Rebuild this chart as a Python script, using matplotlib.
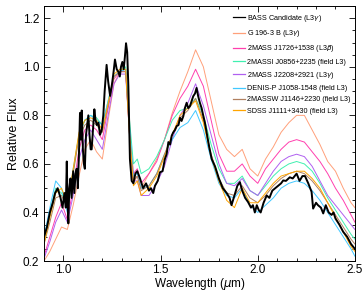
import matplotlib
matplotlib.use('Agg')
import matplotlib.pyplot as plt
from matplotlib.ticker import MultipleLocator

plt.rcParams['font.family'] = ['Liberation Sans', 'DejaVu Sans']

# BASS candidate (noisy, thick black)
bass_wl = [0.900, 0.915, 0.930, 0.945, 0.957, 0.970, 0.985, 0.995, 1.005, 1.012,
           1.017, 1.021, 1.025, 1.030, 1.036, 1.042, 1.050, 1.056, 1.062, 1.068,
           1.074, 1.080, 1.085, 1.090, 1.094, 1.100, 1.105, 1.110, 1.116, 1.122,
           1.128, 1.134, 1.140, 1.145, 1.152, 1.159, 1.165, 1.172, 1.180, 1.188,
           1.197, 1.205, 1.212, 1.222, 1.230, 1.240, 1.250, 1.258, 1.265, 1.274,
           1.282, 1.290, 1.296, 1.303, 1.310, 1.316, 1.322, 1.328, 1.334, 1.338,
           1.342, 1.351, 1.360, 1.370, 1.380, 1.394, 1.410, 1.425, 1.440, 1.450,
           1.462, 1.471, 1.485, 1.497, 1.510, 1.522, 1.531, 1.540, 1.549, 1.557,
           1.565, 1.574, 1.583, 1.592, 1.600, 1.608, 1.617, 1.625, 1.634, 1.642,
           1.651, 1.660, 1.668, 1.677, 1.685, 1.693, 1.702, 1.711, 1.720, 1.728,
           1.737, 1.750, 1.763, 1.780, 1.800, 1.820, 1.840, 1.855, 1.865, 1.880,
           1.895, 1.908, 1.920, 1.935, 1.950, 1.965, 1.975, 1.985, 1.995, 2.005,
           2.015, 2.030, 2.046, 2.060, 2.075, 2.090, 2.105, 2.120, 2.131, 2.145,
           2.165, 2.180, 2.200, 2.215, 2.230, 2.243, 2.260, 2.277, 2.285, 2.300,
           2.310, 2.325, 2.337, 2.350, 2.365, 2.380, 2.390, 2.400, 2.420, 2.440,
           2.460, 2.480, 2.500]
bass_fx = [0.30, 0.34, 0.40, 0.44, 0.48, 0.50, 0.46, 0.42, 0.48, 0.42,
           0.61, 0.45, 0.355, 0.50, 0.54, 0.46, 0.57, 0.48, 0.56, 0.58,
           0.50, 0.65, 0.81, 0.70, 0.82, 0.66, 0.60, 0.58, 0.72, 0.76,
           0.80, 0.72, 0.66, 0.66, 0.74, 0.825, 0.78, 0.76, 0.77, 0.72,
           0.74, 0.80, 0.90, 1.008, 0.94, 0.88, 0.93, 0.98, 1.03, 0.99,
           0.98, 0.96, 1.00, 1.02, 0.99, 1.04, 1.097, 1.06, 0.92, 0.78,
           0.62, 0.53, 0.52, 0.56, 0.57, 0.54, 0.50, 0.52, 0.49, 0.50,
           0.48, 0.51, 0.53, 0.566, 0.57, 0.62, 0.64, 0.69, 0.68, 0.716,
           0.73, 0.74, 0.756, 0.76, 0.79, 0.777, 0.797, 0.83, 0.852, 0.83,
           0.838, 0.86, 0.879, 0.89, 0.913, 0.88, 0.852, 0.83, 0.797, 0.77,
           0.73, 0.67, 0.62, 0.59, 0.54, 0.50, 0.48, 0.46, 0.43, 0.47,
           0.51, 0.525, 0.49, 0.46, 0.443, 0.42, 0.43, 0.40, 0.43, 0.41,
           0.40, 0.44, 0.47, 0.46, 0.49, 0.50, 0.51, 0.52, 0.532, 0.53,
           0.545, 0.54, 0.56, 0.53, 0.55, 0.55, 0.52, 0.485, 0.416, 0.44,
           0.43, 0.42, 0.396, 0.43, 0.40, 0.39, 0.40, 0.375, 0.35, 0.32,
           0.30, 0.27, 0.25]

# comparison objects share one wavelength grid
wl = [0.90, 0.93, 0.96, 0.99, 1.02, 1.05, 1.08, 1.11, 1.14, 1.17,
      1.20, 1.23, 1.26, 1.29, 1.32, 1.34, 1.36, 1.38, 1.40, 1.44,
      1.48, 1.52, 1.56, 1.60, 1.64, 1.68, 1.72, 1.76, 1.80, 1.84,
      1.88, 1.92, 1.96, 2.00, 2.04, 2.08, 2.12, 2.16, 2.20, 2.24,
      2.28, 2.32, 2.36, 2.40, 2.44, 2.48, 2.50]

g196 = [0.20, 0.24, 0.29, 0.34, 0.33, 0.43, 0.55, 0.66, 0.70, 0.65,
        0.62, 0.78, 0.93, 0.98, 0.99, 0.72, 0.52, 0.55, 0.50, 0.56,
        0.62, 0.70, 0.81, 0.90, 0.98, 1.07, 1.00, 0.86, 0.72, 0.66,
        0.63, 0.66, 0.58, 0.55, 0.62, 0.67, 0.73, 0.77, 0.80, 0.80,
        0.74, 0.68, 0.61, 0.57, 0.50, 0.44, 0.42]
j1726 = [0.22, 0.30, 0.38, 0.44, 0.37, 0.50, 0.66, 0.74, 0.76, 0.74,
         0.70, 0.83, 0.95, 0.98, 0.98, 0.74, 0.56, 0.58, 0.52, 0.56,
         0.61, 0.70, 0.80, 0.87, 0.92, 0.99, 0.92, 0.78, 0.64, 0.57,
         0.57, 0.60, 0.55, 0.52, 0.58, 0.62, 0.66, 0.69, 0.70, 0.69,
         0.65, 0.61, 0.56, 0.50, 0.45, 0.39, 0.36]
j0856 = [0.28, 0.40, 0.50, 0.48, 0.42, 0.57, 0.72, 0.78, 0.80, 0.79,
         0.76, 0.86, 0.96, 0.98, 1.00, 0.78, 0.60, 0.62, 0.56, 0.58,
         0.63, 0.70, 0.78, 0.82, 0.83, 0.87, 0.80, 0.68, 0.58, 0.52,
         0.52, 0.55, 0.49, 0.47, 0.51, 0.55, 0.58, 0.60, 0.61, 0.60,
         0.57, 0.52, 0.46, 0.41, 0.36, 0.31, 0.29]
j2208 = [0.21, 0.28, 0.36, 0.41, 0.36, 0.47, 0.62, 0.70, 0.74, 0.70,
         0.66, 0.80, 0.93, 0.97, 0.97, 0.72, 0.53, 0.53, 0.47, 0.47,
         0.52, 0.59, 0.70, 0.80, 0.85, 0.93, 0.84, 0.72, 0.60, 0.52,
         0.51, 0.54, 0.49, 0.47, 0.52, 0.57, 0.61, 0.63, 0.64, 0.63,
         0.59, 0.53, 0.47, 0.43, 0.39, 0.35, 0.33]
j1058 = [0.30, 0.42, 0.53, 0.50, 0.40, 0.58, 0.72, 0.78, 0.80, 0.78,
         0.76, 0.86, 0.96, 0.98, 0.99, 0.75, 0.55, 0.56, 0.50, 0.51,
         0.56, 0.64, 0.70, 0.75, 0.77, 0.82, 0.74, 0.62, 0.52, 0.47,
         0.46, 0.50, 0.43, 0.40, 0.43, 0.46, 0.50, 0.52, 0.53, 0.52,
         0.49, 0.45, 0.40, 0.35, 0.30, 0.25, 0.22]
j1146 = [0.27, 0.36, 0.46, 0.47, 0.42, 0.56, 0.71, 0.76, 0.78, 0.76,
         0.73, 0.84, 0.96, 0.98, 0.98, 0.72, 0.53, 0.55, 0.49, 0.51,
         0.56, 0.64, 0.72, 0.79, 0.82, 0.87, 0.78, 0.64, 0.54, 0.48,
         0.47, 0.51, 0.46, 0.44, 0.47, 0.51, 0.54, 0.56, 0.57, 0.56,
         0.53, 0.49, 0.44, 0.39, 0.34, 0.29, 0.27]
j1111 = [0.27, 0.38, 0.48, 0.50, 0.44, 0.58, 0.73, 0.78, 0.79, 0.78,
         0.74, 0.85, 0.97, 0.99, 0.99, 0.72, 0.51, 0.53, 0.47, 0.50,
         0.55, 0.63, 0.72, 0.80, 0.83, 0.86, 0.77, 0.63, 0.53, 0.45,
         0.42, 0.50, 0.44, 0.44, 0.48, 0.52, 0.55, 0.56, 0.57, 0.57,
         0.54, 0.50, 0.44, 0.38, 0.32, 0.26, 0.24]

labels = ['BASS Candidate (L3$\\gamma$)',
          'G 196-3 B (L3$\\gamma$)',
          '2MASS J1726+1538 (L3$\\beta$)',
          '2MASSI J0856+2235 (field L3)',
          '2MASS J2208+2921 (L3$\\gamma$)',
          'DENIS-P J1058-1548 (field L3)',
          '2MASSW J1146+2230 (field L3)',
          'SDSS J1111+3430 (field L3)']
colors = ['black', '#ffa07a', '#ff3fae', '#40f0b0', '#b060f0',
          '#40c8ff', '#b08060', '#ffa500']

fig = plt.figure(figsize=(3.64, 2.91), dpi=100)
ax = fig.add_axes([0.121, 0.103, 0.854, 0.876])

comps = [g196, j1726, j0856, j2208, j1058, j1146, j1111]
for i, c in enumerate(comps):
    ax.plot(wl, c, color=colors[i + 1], lw=0.7, label=labels[i + 1], zorder=2)
ax.plot(bass_wl, bass_fx, color=colors[0], lw=1.4, label=labels[0], zorder=3)

h, l = ax.get_legend_handles_labels()
h = [h[-1]] + h[:-1]
l = [l[-1]] + l[:-1]
leg = ax.legend(h, l, loc='upper right', frameon=False, fontsize=5.2,
                handlelength=1.6, handletextpad=0.3, labelspacing=0.58,
                borderaxespad=0.2, bbox_to_anchor=(1.0, 0.99))
for line in leg.get_lines():
    line.set_linewidth(0.9)

ax.set_xlim(0.9, 2.5)
ax.set_ylim(0.2, 1.25)
ax.xaxis.set_major_locator(MultipleLocator(0.5))
ax.xaxis.set_minor_locator(MultipleLocator(0.1))
ax.yaxis.set_major_locator(MultipleLocator(0.2))
ax.yaxis.set_minor_locator(MultipleLocator(0.05))
ax.tick_params(which='both', direction='in', top=True, right=True, labelsize=8.5, width=0.6)
ax.tick_params(which='major', length=4)
ax.tick_params(which='minor', length=2)
ax.tick_params(axis='x', pad=2.5)
for s in ax.spines.values():
    s.set_linewidth(0.7)
ax.set_xlabel('Wavelength ($\\mu$m)', fontsize=8.5, labelpad=-0.5)
ax.set_ylabel('Relative Flux', fontsize=9, labelpad=2)

fig.savefig('out.png', dpi=100)
